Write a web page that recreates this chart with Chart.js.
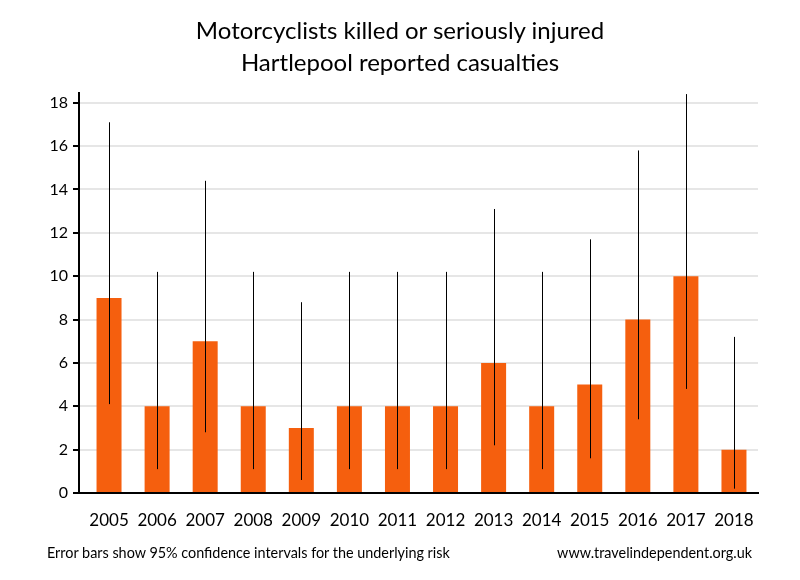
<!DOCTYPE html>
<html>
<head>
<meta charset="utf-8">
<script src="https://cdn.jsdelivr.net/npm/chart.js@4"></script>
<style>
  html, body { margin: 0; padding: 0; background: #fff; }
  #wrap { position: relative; width: 800px; height: 580px; font-family: Lato, "Open Sans", sans-serif; color: #000; }
  canvas { position: absolute; left: 0; top: 0; }
  .title { position: absolute; left: 0; width: 800px; text-align: center; font-size: 24px; line-height: 32px; }
  .foot { position: absolute; top: 544px; font-size: 14.4px; line-height: 18px; white-space: nowrap; }
</style>
</head>
<body>
<div id="wrap">
  <canvas id="c" width="800" height="580"></canvas>
  <div class="title" style="top:14px">Motorcyclists killed or seriously injured</div>
  <div class="title" style="top:46px">Hartlepool reported casualties</div>
  <div class="foot" style="left:47px">Error bars show 95% confidence intervals for the underlying risk</div>
  <div class="foot" style="right:48px">www.travelindependent.org.uk</div>
</div>
<script>
const years = ['2005','2006','2007','2008','2009','2010','2011','2012','2013','2014','2015','2016','2017','2018'];
const casualties = [9, 4, 7, 4, 3, 4, 4, 4, 6, 4, 5, 8, 10, 2];
const ciLow  = [4.1, 1.1, 2.8, 1.1, 0.6, 1.1, 1.1, 1.1, 2.2, 1.1, 1.6, 3.4, 4.8, 0.2];
const ciHigh = [17.1, 10.2, 14.4, 10.2, 8.8, 10.2, 10.2, 10.2, 13.1, 10.2, 11.7, 15.8, 18.4, 7.2];
const yTicks = [0, 2, 4, 6, 8, 10, 12, 14, 16, 18];

// shift the category band a little right of the y axis, as in the reference
const categoryInset = {
  id: 'categoryInset',
  afterLayout(chart) {
    const x = chart.scales.x;
    const l = x.left;
    x.left = l + 6;
    x.configure();
    x.left = l;
  }
};

const errorBars = {
  id: 'errorBars',
  afterDatasetsDraw(chart) {
    const ctx = chart.ctx;
    const meta = chart.getDatasetMeta(0);
    const ys = chart.scales.y;
    ctx.save();
    ctx.strokeStyle = '#000';
    ctx.lineWidth = 1;
    meta.data.forEach((bar, i) => {
      const x = Math.round(bar.x) + 0.5;
      ctx.beginPath();
      ctx.moveTo(x, ys.getPixelForValue(ciLow[i]));
      ctx.lineTo(x, ys.getPixelForValue(ciHigh[i]));
      ctx.stroke();
    });
    ctx.restore();
  }
};

new Chart(document.getElementById('c'), {
  type: 'bar',
  data: {
    labels: years,
    datasets: [{
      data: casualties,
      backgroundColor: '#F55F0E',
      borderWidth: 0,
      barPercentage: 0.52,
      categoryPercentage: 1.0
    }]
  },
  options: {
    responsive: false,
    animation: false,
    devicePixelRatio: 1,
    layout: { padding: { top: 93, right: 42, left: 0, bottom: 0 } },
    plugins: { legend: { display: false }, title: { display: false }, tooltip: { enabled: false } },
    scales: {
      x: {
        grid: { display: true, drawOnChartArea: false, drawTicks: false },
        border: { display: true, color: '#000', width: 2 },
        ticks: { color: '#000', font: { family: 'Lato', size: 17 }, padding: 17, maxRotation: 0, autoSkip: false },
        afterFit(scale) { scale.height = 87; }
      },
      y: {
        min: 0,
        max: 18.45,
        afterBuildTicks(scale) { scale.ticks = yTicks.map(v => ({ value: v })); },
        grid: { color: '#e6e6e6', lineWidth: 2, tickColor: '#000', tickLength: 6, tickWidth: 2 },
        border: { display: true, color: '#000', width: 2 },
        ticks: { color: '#000', font: { family: 'Lato', size: 16 }, padding: 5 },
        afterFit(scale) { scale.width = 79; }
      }
    }
  },
  plugins: [categoryInset, errorBars]
});
</script>
</body>
</html>
